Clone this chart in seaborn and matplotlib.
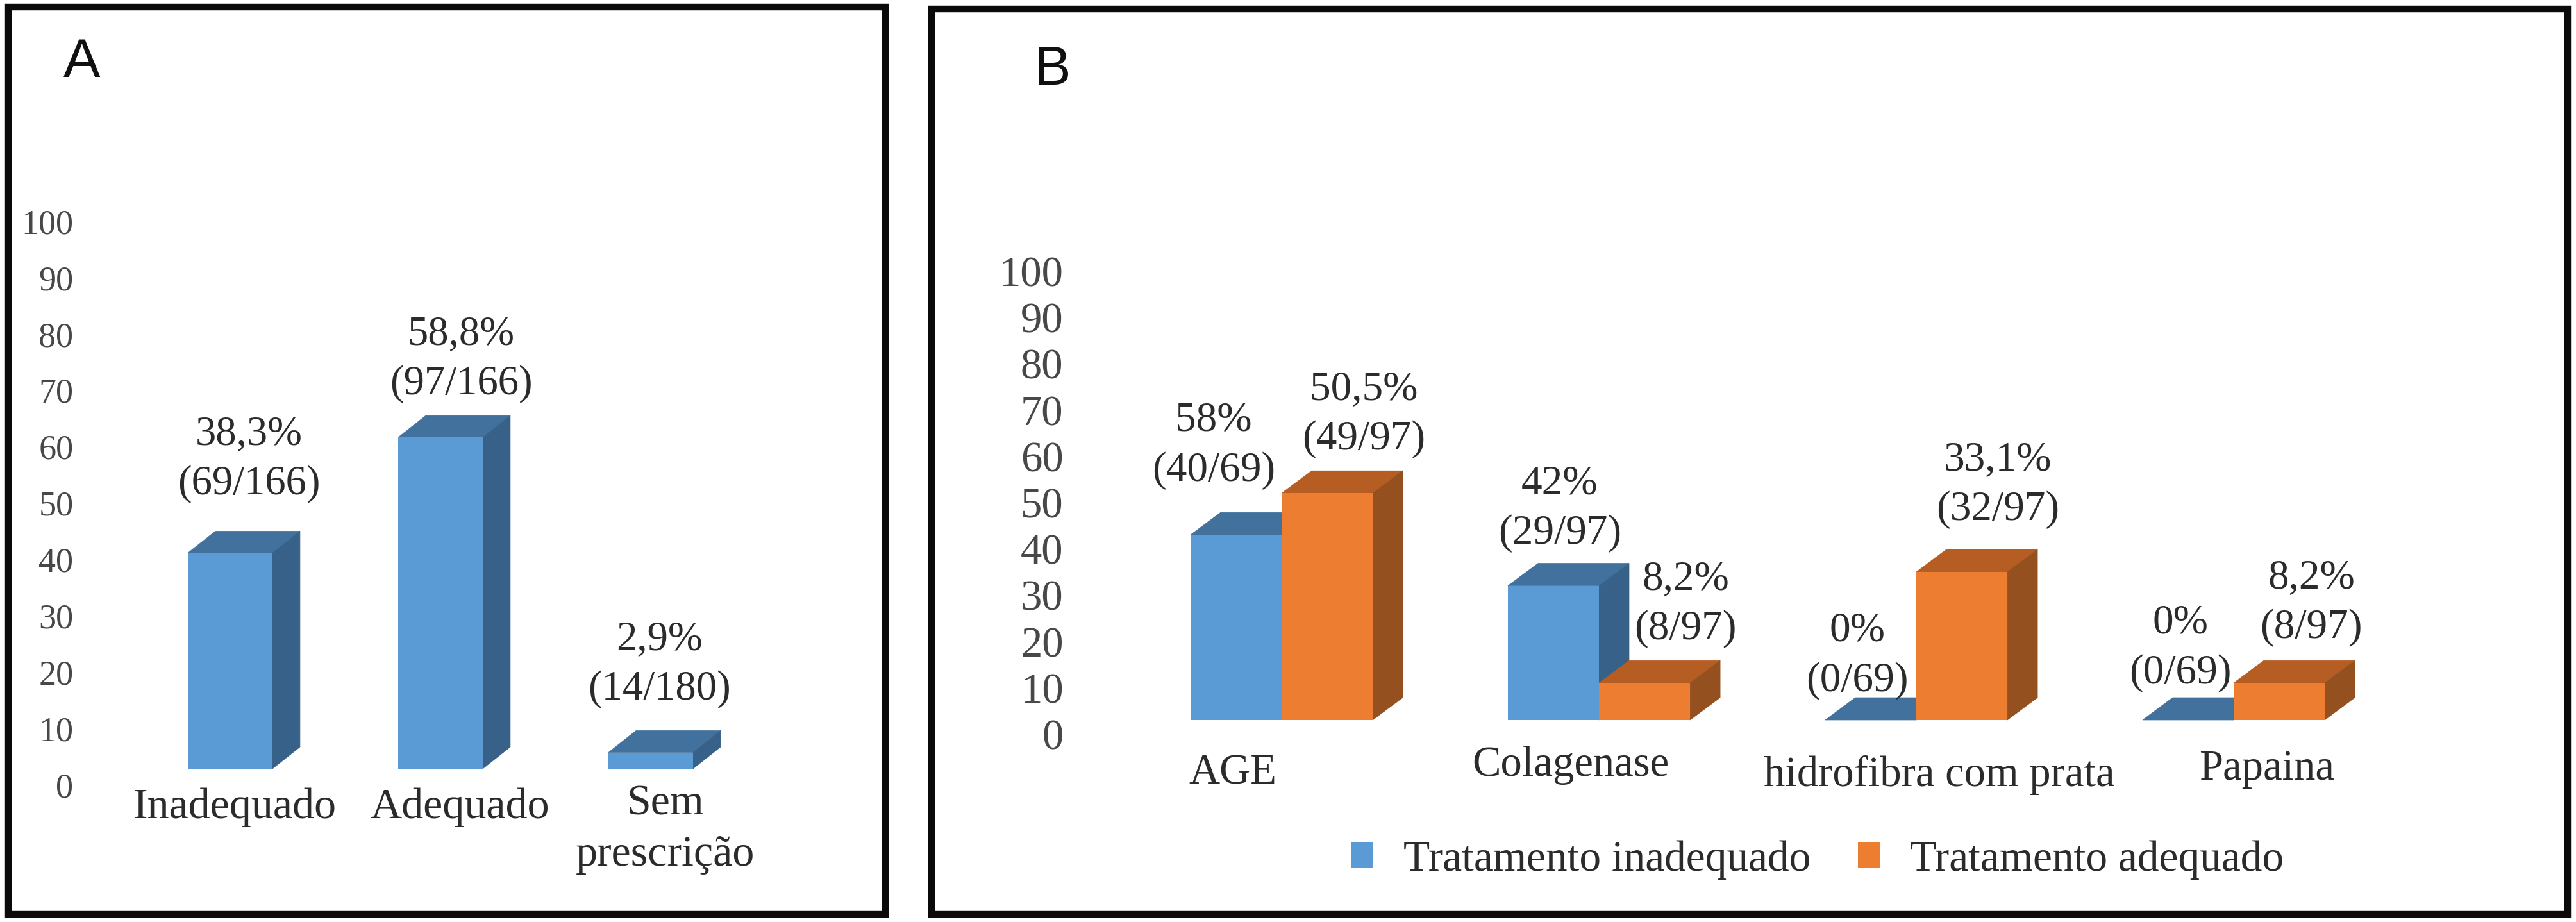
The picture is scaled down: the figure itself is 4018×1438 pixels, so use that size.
import pandas as pd
import seaborn as sns
import matplotlib.pyplot as plt
from matplotlib.patches import Polygon, Rectangle
from matplotlib.transforms import IdentityTransform, ScaledTranslation

W, H = 4018, 1438
DPI = 100

# painel A
cats_a = ["Inadequado", "Adequado", "Sem\nprescrição"]
vals_a = [38.3, 58.8, 2.9]
labels_a = ["38,3%\n(69/166)", "58,8%\n(97/166)", "2,9%\n(14/180)"]

# painel B
cats_b = ["AGE", "Colagenase", "hidrofibra com prata", "Papaina"]
series_b = ["Tratamento inadequado", "Tratamento adequado"]
inadequado = [40, 29, 0, 0]
adequado = [49, 8, 32, 8]
labels_inad = ["58%\n(40/69)", "42%\n(29/97)", "0%\n(0/69)", "0%\n(0/69)"]
labels_adeq = ["50,5%\n(49/97)", "8,2%\n(8/97)", "33,1%\n(32/97)", "8,2%\n(8/97)"]
ticks = list(range(0, 101, 10))

BLUE = ("#5b9bd5", "#41719c", "#38618a")
ORANGE = ("#ed7d31", "#b55d23", "#94501e")
TEXT = "#2b2b2b"
TICK = "#484848"

sns.set_theme(style="white")
plt.rcParams['font.family'] = ['Liberation Serif', 'DejaVu Serif']


def px_axes(fig, left, top, right, bottom):
    # eixos posicionados em pixels da imagem
    return fig.add_axes([left / W, 1 - bottom / H, (right - left) / W, (bottom - top) / H])


def px_offset(dx, dy):
    return ScaledTranslation(dx / DPI, dy / DPI, fig.dpi_scale_trans)


def faces_3d(ax, bar, colors, depth, z):
    # faces de topo e lateral desenhadas a partir da barra real
    x0, y0 = ax.transData.transform((bar.get_x(), 0))
    x1, y1 = ax.transData.transform((bar.get_x() + bar.get_width(), bar.get_height()))
    dx, dy = depth
    top = [(x0, y1), (x1, y1), (x1 + dx, y1 + dy), (x0 + dx, y1 + dy)]
    side = [(x1, y0), (x1 + dx, y0 + dy), (x1 + dx, y1 + dy), (x1, y1)]
    for pts, c in ((top, colors[1]), (side, colors[2])):
        ax.add_patch(Polygon(pts, closed=True, fc=c, ec=c, lw=0.5, zorder=z,
                             transform=IdentityTransform(), clip_on=False))


def style_axis(ax, tick_size, tick_pad, tick_dy, xlab_offsets, xlab_size):
    ax.set_ylim(0, 100)
    ax.set_yticks(ticks)
    ax.set_xlabel("")
    ax.set_ylabel("")
    sns.despine(ax=ax, left=True, bottom=True)
    ax.patch.set_alpha(0)
    ax.tick_params(axis='y', length=0, pad=tick_pad, labelsize=tick_size, labelcolor=TICK)
    ax.tick_params(axis='x', length=0, pad=0, labelsize=xlab_size, labelcolor=TEXT)
    for lab in ax.get_yticklabels():
        lab.set_transform(lab.get_transform() + px_offset(0, -tick_dy))
    for lab, (dx, dy) in zip(ax.get_xticklabels(), xlab_offsets):
        lab.set_verticalalignment('center')
        lab.set_linespacing(1.4)
        lab.set_transform(lab.get_transform() + px_offset(dx, -dy))


def put_labels(ax, bars, texts, offsets, size):
    for bar, txt, (dx, dy) in zip(bars, texts, offsets):
        ax.annotate(txt, (bar.get_x() + bar.get_width() / 2, bar.get_height()),
                    xytext=(dx, dy), textcoords='offset pixels', ha='center', va='center',
                    fontsize=size, color=TEXT, linespacing=1.4, zorder=10, annotation_clip=False)


fig = plt.figure(figsize=(W / DPI, H / DPI), dpi=DPI, facecolor='white')

# molduras
for l, t, r, b in [(13, 11, 1381, 1426), (1453, 14, 4005, 1426)]:
    fig.add_artist(Rectangle((l / W, 1 - b / H), (r - l) / W, (b - t) / H, fill=False,
                             ec='#0a0a0a', lw=7.5, transform=fig.transFigure))

# A
ax_a = px_axes(fig, 195, 320, 1179, 1199)
df_a = pd.DataFrame({"categoria": cats_a, "valor": vals_a})
sns.barplot(data=df_a, x="categoria", y="valor", color=BLUE[0], saturation=1, width=0.402,
            linewidth=0, ax=ax_a, zorder=3)
style_axis(ax_a, 39, 58, 25, [(7, 60), (30, 60), (23, 95)], 49)
ax_a.set_xlim(-0.5, 2.5)
for bar in ax_a.containers[0]:
    faces_3d(ax_a, bar, BLUE, (43, 34), 2.5)
put_labels(ax_a, ax_a.containers[0], labels_a, [(29, 146), (32, 122), (14, 137)], 46.5)

# B
ax_b = px_axes(fig, 1751.5, 401, 3731.5, 1123)
df_b = pd.DataFrame({
    "categoria": cats_b * 2,
    "serie": [series_b[0]] * 4 + [series_b[1]] * 4,
    "valor": inadequado + adequado,
})
sns.barplot(data=df_b, x="categoria", y="valor", hue="serie", palette=[BLUE[0], ORANGE[0]],
            saturation=1, width=0.574, gap=0, linewidth=0, legend=False, ax=ax_b, zorder=3)
style_axis(ax_b, 48, 67, 22, [(-76, 83), (-44, 70), (36, 86), (52, 76)], 48)
ax_b.set_xlim(-0.5, 3.5)
cont_inad, cont_adeq = ax_b.containers[0], ax_b.containers[1]
for bar in cont_inad:
    bar.set_zorder(3)
    faces_3d(ax_b, bar, BLUE, (47, 35), 2.5)
for bar in cont_adeq:
    bar.set_zorder(5)
    faces_3d(ax_b, bar, ORANGE, (47, 35), 4)
put_labels(ax_b, cont_inad, labels_inad, [(-35, 139), (10, 120), (-21, 100), (-12, 112)], 47)
put_labels(ax_b, cont_adeq, labels_adeq, [(57, 123), (64, 123), (56, 136), (50, 125)], 47)

ax_b.legend([cont_inad[0], cont_adeq[0]], series_b, ncol=2, frameon=False, loc='center',
            bbox_to_anchor=(2835 / W, 1 - 1341 / H), bbox_transform=fig.transFigure,
            fontsize=48.5, labelcolor=TEXT, handlelength=0.5, handleheight=0.55,
            handletextpad=0.7, columnspacing=1.1)

# letras dos paineis
fig.text(128 / W, 1 - 98 / H, "A", family='Liberation Sans', fontsize=62, color='#101010',
         ha='center', va='center')
fig.text(1642 / W, 1 - 110 / H, "B", family='Liberation Sans', fontsize=62, color='#101010',
         ha='center', va='center')

fig.savefig("out.png", dpi=DPI)
